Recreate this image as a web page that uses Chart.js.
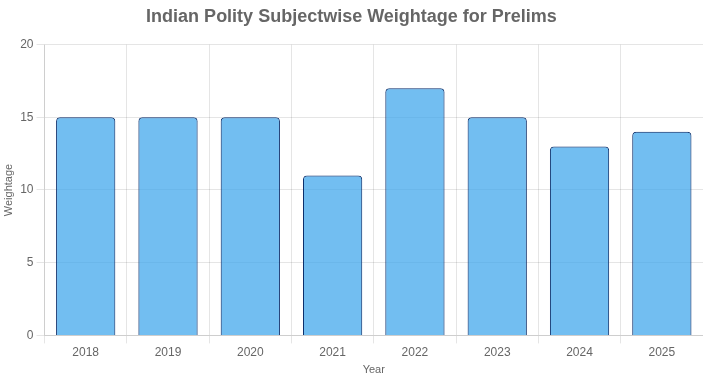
<!DOCTYPE html>
<html><head><meta charset="utf-8">
<script src="https://cdn.jsdelivr.net/npm/chart.js@4/dist/chart.umd.min.js"></script>
<style>html,body{margin:0;padding:0;background:#fff}#w{width:703px;height:381px}</style>
</head><body><div id="w"><canvas id="c"></canvas></div>
<script>
const categories = ['2018','2019','2020','2021','2022','2023','2024','2025'];
const weightage = [15,15,15,11,17,15,13,14];
const yTicks = [0,5,10,15,20];
Chart.defaults.font.family = "'Liberation Sans', Arial, Helvetica, sans-serif";
new Chart(document.getElementById('c'), {
  type: 'bar',
  data: { labels: categories, datasets: [{
    label: 'Weightage', data: weightage,
    backgroundColor: 'rgba(54,162,235,0.7)',
    borderColor: '#0d2f6b', borderWidth: 1, borderRadius: 4, borderSkipped: 'bottom'
  }]},
  options: {
    responsive: true, maintainAspectRatio: false, animation: false,
    layout: { padding: { right: 0, bottom: 4 } },
    plugins: {
      legend: { display: false },
      title: { display: true, text: 'Indian Polity Subjectwise Weightage for Prelims',
        color: '#666', font: { size: 18, weight: 'bold' }, padding: { top: 6, bottom: 17 } }
    },
    scales: {
      y: { min: 0, max: 20, afterBuildTicks: a => { a.ticks = yTicks.map(v => ({ value: v })); },
        title: { display: true, text: 'Weightage', color: '#666', font: { size: 11 }, padding: { top: 2, bottom: 2 } },
        ticks: { color: '#666', font: { size: 12 } } },
      x: { title: { display: true, text: 'Year', color: '#666', font: { size: 11 }, padding: { top: 2, bottom: 0 } },
        ticks: { color: '#666', font: { size: 12 }, padding: 2 } }
    }
  }
});
</script></body></html>
